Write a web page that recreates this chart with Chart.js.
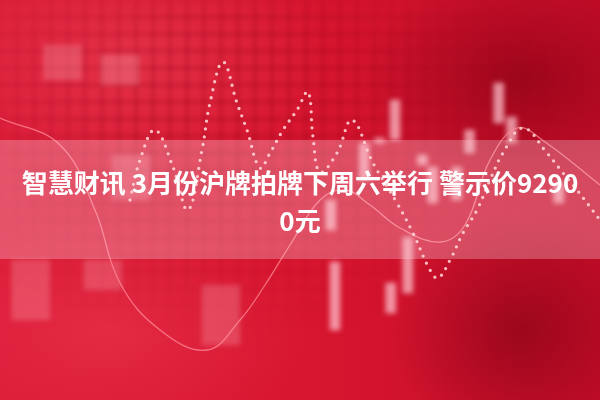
<!DOCTYPE html>
<html>
<head>
<meta charset="utf-8">
<script src="https://cdn.jsdelivr.net/npm/chart.js@4.4.0/dist/chart.umd.min.js"></script>
<style>
html, body { margin: 0; padding: 0; }
body {
    width: 600px; height: 400px; overflow: hidden; position: relative;
    background:
        radial-gradient(ellipse 160px 110px at 520px 80px, rgba(120,0,15,0.55), rgba(120,0,15,0) 100%),
        radial-gradient(ellipse 130px 120px at 520px 330px, rgba(110,0,15,0.5), rgba(110,0,15,0) 100%),
        radial-gradient(ellipse 200px 120px at 130px 60px, rgba(255,120,130,0.25), rgba(255,120,130,0) 100%),
        radial-gradient(ellipse 200px 120px at 110px 330px, rgba(255,90,110,0.25), rgba(255,90,110,0) 100%),
        linear-gradient(90deg, #dc1c38 0%, #d81630 50%, #c40c28 100%);
}
canvas { position: absolute; left: 0; top: 0; }
#grille {
    filter: blur(2px);
    -webkit-mask-image: radial-gradient(ellipse 330px 230px at 230px 110px, #000 30%, transparent 100%);
    mask-image: radial-gradient(ellipse 330px 230px at 230px 110px, #000 30%, transparent 100%);
}
#bougies { filter: blur(2.5px); }
#courbes { filter: blur(0.6px); }
#bande {
    position: absolute; left: 0; top: 140px; width: 600px; height: 119px;
    background: rgba(255,215,225,0.3);
}
.titre {
    position: absolute; left: 0; width: 600px; text-align: center;
    color: #fff; font-family: "Noto Sans CJK SC", sans-serif; font-weight: bold;
    font-size: 26px; line-height: 38px; white-space: nowrap;
}
</style>
</head>
<body>
<canvas id="grille" width="600" height="400"></canvas>
<canvas id="bougies" width="600" height="400"></canvas>
<canvas id="courbes" width="600" height="400"></canvas>
<div id="bande"></div>
<div class="titre" style="top:163px">智慧财讯 3月份沪牌拍牌下周六举行 警示价9290</div>
<div class="titre" style="top:201px">0元</div>
<script>
// valeurs (x = colonne, y = niveau, 0 en haut)
var bougieX = [405, 526, 541, 369, 387, 437, 449, 477, 492, 596, 330, 420, 335, 400];
var bougieHaut = [100, 83, 117, 143, 138, 155, 167, 167, 130, 183, 200, 237, 262, 283];
var bougieBas = [140, 123, 143, 180, 143, 165, 203, 200, 153, 203, 230, 293, 330, 313];

var tacheX = [230, 8, 92, 125, 45, 112];
var tacheHaut = [285, 260, 260, 155, 45, 55];
var tacheBas = [345, 320, 290, 200, 80, 85];

var pointsX = [130, 140, 155, 173, 188, 202, 210, 223, 237, 247, 260, 270, 283, 297, 308, 313, 320, 337, 352, 373, 397, 413, 430, 438, 450, 463, 477, 490, 503, 523, 547, 563, 577, 600];
var pointsY = [200, 160, 130, 167, 210, 150, 103, 62, 103, 130, 168, 153, 130, 110, 92, 137, 172, 153, 120, 163, 203, 233, 270, 278, 260, 233, 210, 180, 153, 128, 153, 173, 190, 220];

var filX = [0, 60, 95, 120, 160, 207, 240, 265, 290, 320, 345, 370, 400, 440, 465, 490, 517, 545, 600];
var filY = [118, 145, 210, 283, 330, 350, 320, 285, 245, 200, 190, 205, 228, 242, 225, 160, 128, 142, 185];

function paires(xs, ys) {
    return xs.map(function (x, i) { return { x: x, y: ys[i] }; });
}
function barres(xs, hauts, bas) {
    return xs.map(function (x, i) { return { x: x, y: [hauts[i], bas[i]] }; });
}

var axesCaches = {
    x: { type: 'linear', min: 0, max: 600, display: false },
    y: { type: 'linear', min: 0, max: 400, reverse: true, display: false }
};
var base = {
    responsive: false,
    animation: false,
    layout: { padding: 0 },
    plugins: { legend: { display: false }, tooltip: { enabled: false } }
};

// fond en quadrillage (effet ecran)
new Chart(document.getElementById("grille"), {
    type: 'line',
    data: { datasets: [{ data: [] }] },
    options: Object.assign({}, base, {
        scales: {
            x: {
                type: 'linear', min: 0, max: 600,
                ticks: { display: false, stepSize: 17, maxTicksLimit: 100 },
                grid: { color: 'rgba(150,0,25,0.25)', lineWidth: 4, drawTicks: false },
                border: { display: false }
            },
            y: {
                type: 'linear', min: 0, max: 400, reverse: true,
                ticks: { display: false, stepSize: 17, maxTicksLimit: 100 },
                grid: { color: 'rgba(150,0,25,0.25)', lineWidth: 4, drawTicks: false },
                border: { display: false }
            }
        }
    })
});

// bougies floues
new Chart(document.getElementById("bougies"), {
    type: 'bar',
    data: {
        datasets: [{
            data: barres(tacheX, tacheHaut, tacheBas),
            backgroundColor: 'rgba(255,190,200,0.25)',
            barThickness: 38
        }, {
            data: barres(bougieX, bougieHaut, bougieBas),
            backgroundColor: 'rgba(255,200,210,0.7)',
            barThickness: 10
        }]
    },
    options: Object.assign({}, base, { scales: axesCaches })
});

// ligne pointillee + courbe fine
new Chart(document.getElementById("courbes"), {
    type: 'line',
    data: {
        datasets: [{
            data: paires(pointsX, pointsY),
            borderColor: 'rgba(255,210,210,0.9)',
            borderWidth: 3.3,
            borderDash: [0, 8],
            borderCapStyle: 'round',
            tension: 0.4,
            pointRadius: 0
        }, {
            data: paires(filX, filY),
            borderColor: 'rgba(255,140,155,0.75)',
            borderWidth: 1.3,
            tension: 0.4,
            pointRadius: 0
        }]
    },
    options: Object.assign({}, base, { scales: axesCaches })
});
</script>
</body>
</html>
